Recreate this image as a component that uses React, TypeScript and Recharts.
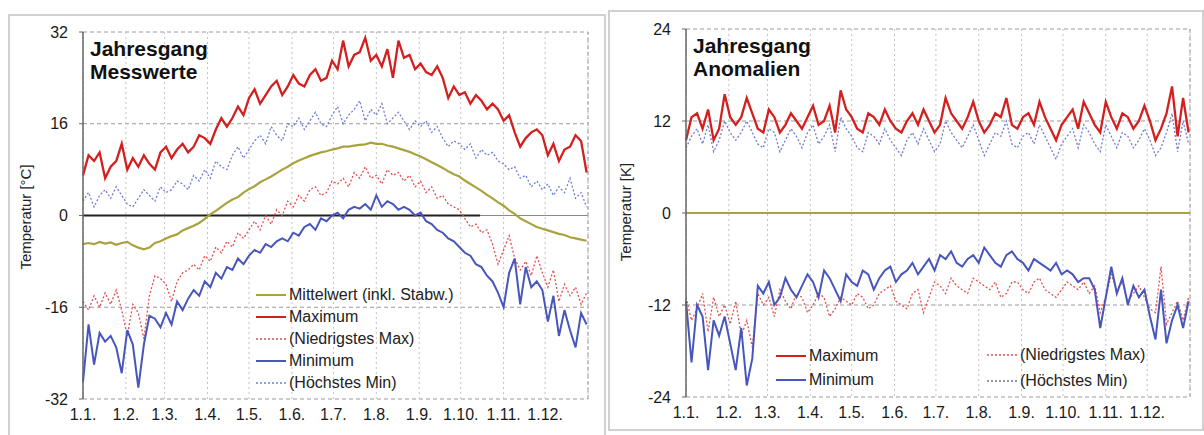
import React from 'react';
import { LineChart, Line, XAxis, YAxis, CartesianGrid, ReferenceLine } from 'recharts';

// daily series sampled every 4 days (1.1. .. 31.12.)
const dayStep = 4;

const monthStarts = [0, 31, 59, 90, 120, 151, 181, 212, 243, 273, 304, 334];
const monthLabels = ['1.1.', '1.2.', '1.3.', '1.4.', '1.5.', '1.6.', '1.7.', '1.8.', '1.9.', '1.10.', '1.11.', '1.12.'];

const leftTicks = [-32, -16, 0, 16, 32];
const rightTicks = [-24, -12, 0, 12, 24];

// Messwerte [°C]
const messMax = [
  7, 10.5, 9.5, 11, 6.5, 8.5, 9.5, 12.5, 8, 10,
  8.5, 10.5, 9, 8, 11, 12, 10, 11.5, 12.5, 11,
  12, 14, 13.5, 12.5, 15, 17, 15.5, 17, 19, 17.5,
  20.5, 22, 19.5, 21, 22.5, 23.5, 21, 22.5, 24.5, 23,
  22.5, 24.5, 25.5, 23.5, 24, 27, 25.5, 30.5, 26, 28,
  28.5, 31, 27, 28, 26, 29, 24, 30.5, 27.5, 28,
  25.5, 26.5, 25, 24.5, 26, 24, 20.5, 22.5, 21, 21.5,
  19.5, 21, 20, 18.5, 19.5, 18.5, 16.5, 17.5, 14.5, 12,
  13.5, 14.5, 15, 14, 10.5, 12.5, 9.5, 11.5, 12, 14,
  13, 7.5,
];
const messHoechstesMin = [
  2.5, 4, 1.5, 3.5, 4.5, 3, 5, 3.5, 2, 1.5,
  3, 4.5, 3.5, 2.5, 5, 4, 4.5, 6, 5.5, 4.5,
  7, 6, 8, 6.5, 9.5, 8.5, 8, 10.5, 12, 10,
  11.5, 13, 14, 12.5, 15.5, 14, 13, 16, 15.5, 17,
  15, 16.5, 18, 16, 15.5, 17.5, 19, 16, 17.5, 18.5,
  20, 16.5, 18.5, 17.5, 19.5, 16, 17, 18, 16.5, 15,
  16.5, 15.5, 16.5, 14.5, 15.5, 13.5, 12, 13, 12.5, 11.5,
  12.5, 10, 11.5, 10.5, 11, 9.5, 9, 8, 8.5, 6.5,
  7, 5, 6, 4.5, 5.5, 3.5, 5, 4, 6.5, 3,
  4, 1.5,
];
const messMittel = [
  -5, -4.8, -5, -4.6, -4.9, -4.7, -5.1, -4.8, -4.6, -5.2,
  -5.6, -5.9, -5.6, -4.8, -4.5, -4, -3.6, -3.3, -2.6, -2.2,
  -1.8, -1.3, -0.6, 0.2, 0.8, 1.5, 2.2, 2.8, 3.2, 4,
  4.6, 5.1, 5.8, 6.3, 6.8, 7.4, 8, 8.5, 9.1, 9.6,
  10, 10.4, 10.7, 11, 11.2, 11.5, 11.7, 12, 12, 12.2,
  12.3, 12.4, 12.7, 12.5, 12.5, 12.2, 12, 11.7, 11.4, 11.1,
  10.7, 10.3, 9.8, 9.3, 8.8, 8.3, 7.7, 7.2, 6.8, 6.1,
  5.5, 4.9, 4.3, 3.6, 3, 2.3, 1.7, 0.9, 0.3, -0.5,
  -1, -1.5, -2, -2.3, -2.6, -2.9, -3.2, -3.4, -3.8, -4,
  -4.2, -4.4,
];
const messNiedrigstesMax = [
  -15, -16.5, -14, -16, -13.5, -15.5, -13, -16.5, -21, -15.5,
  -17, -21.5, -14, -10.5, -11, -12, -15, -11.5, -10, -9.5,
  -8.5, -9.5, -7, -8, -5.5, -6.5, -4.5, -5.5, -3, -4,
  -2.5, -1, -2.5, 0, -1.5, 1, 0, 2.5, 1.5, 3.5,
  2.5, 4.5, 5, 3.5, 4, 6, 5.5, 6.5, 5, 7.5,
  6.5, 8.5, 6.5, 7, 5.5, 8, 7, 7.5, 6, 7,
  5, 6, 4, 5, 3, 3.5, 2, 1.5, 1, -0.5,
  -2, -1.5, -3, -2.5, -5, -8.5, -6, -3.5, -7.5, -9.5,
  -8, -10.5, -7, -10, -12.5, -9.5, -15, -12, -14, -12.5,
  -15.5, -13.5,
];
const messMin = [
  -29, -19, -26, -20.5, -22, -21, -23, -27.5, -20, -22.5,
  -30, -22.5, -17.5, -18, -19.5, -17, -19, -15, -16.5, -14.5,
  -13, -14, -11.5, -12.5, -10, -11, -9, -9.5, -7.5, -8.5,
  -7, -6, -6.5, -5, -5.5, -4.5, -4, -4.5, -3, -3.5,
  -2, -1.5, -2.5, -0.5, -1, 0, 0.5, -0.5, 1, 1.5,
  1.2, 2, 1, 3.5, 1.5, 2.5, 2, 1, 1.5, 1,
  0, 0.5, -1, -1.5, -2.5, -3, -4, -4.5, -5.5, -6.5,
  -7, -8.5, -9, -10.5, -11.5, -13.5, -16, -10, -7.5, -15.5,
  -9, -12.5, -11.5, -13, -18.5, -14, -21, -16.5, -20, -23,
  -17, -19,
];
// end of the dark zero bar in the Messwerte panel (day of year)
const zeroBarEnd = 287;

// Anomalien [K]
const anoMax = [
  9.5, 12.5, 13, 11, 13.5, 9.5, 11, 15.5, 12.5, 11.5,
  12.5, 15, 13, 11, 10.5, 13.5, 12.5, 10.5, 11.5, 13,
  12, 11, 12.5, 14, 11.5, 12, 14, 10.5, 16, 13.5,
  12.5, 11, 10.5, 13, 12.5, 11.5, 13.5, 12, 11, 10.5,
  12, 13, 11.5, 13.5, 12, 10.5, 11.5, 15, 13, 12,
  11, 12.5, 14.5, 12, 10.5, 11.5, 13, 12.5, 15, 11.5,
  11, 12.5, 13, 11.5, 14.5, 12.5, 11, 9.5, 11.5, 12.5,
  13.5, 11, 14.5, 13, 11.5, 10.5, 14.5, 12.5, 11, 13,
  12.5, 11, 12, 14, 12, 9.5, 11, 13, 16.5, 10,
  15, 10.5,
];
const anoHoechstesMin = [
  8.5, 10, 11, 9, 11.5, 8, 9.5, 12, 10.5, 9.5,
  10.5, 12, 10.5, 9, 8.5, 11, 10.5, 8, 9.5, 11,
  10, 8.5, 10.5, 11.5, 9, 10, 11.5, 8, 12.5, 11,
  10, 8.5, 8, 10.5, 10, 9, 11, 9.5, 8.5, 7.5,
  9.5, 10.5, 9, 11, 9.5, 8, 9, 12, 10.5, 9.5,
  8.5, 10, 11.5, 9.5, 7.5, 9, 10.5, 10, 12, 9,
  8.5, 10, 10.5, 9, 11.5, 10, 8.5, 7, 9, 10,
  11, 8.5, 11.5, 10.5, 9, 8, 11.5, 10, 8.5, 10.5,
  10, 8.5, 9.5, 11, 9.5, 7.5, 8.5, 10.5, 13, 8,
  12, 9,
];
const anoMin = [
  -11.5, -19.5, -12, -13.5, -20.5, -14, -16, -13.5, -17, -20.5,
  -15, -22.5, -19, -9.5, -10.5, -9, -12, -11, -8.5, -10,
  -11, -9.5, -8, -9, -11, -7.5, -8.5, -10, -11.5, -8,
  -9, -9.5, -7.5, -8, -10, -8.5, -7.5, -7, -9, -8,
  -7.5, -6.5, -8, -7, -6, -7.5, -5.5, -6, -5, -6.5,
  -7, -6, -5.5, -6.5, -4.5, -5.5, -6.5, -7, -5.5, -5,
  -6, -6.5, -7.5, -6, -6.5, -7, -7.5, -6.5, -8, -7.5,
  -8, -9, -8.5, -8.5, -10, -15, -11, -7, -10.5, -8.5,
  -12, -9.5, -11, -10, -13.5, -16.5, -10, -17, -14, -12,
  -15, -11.5,
];
const anoNiedrigstesMax = [
  -11, -14, -12.5, -10.5, -15.5, -11, -13.5, -12, -14.5, -11.5,
  -16, -14, -17.5, -10.5, -12, -11, -13.5, -10, -11.5, -12.5,
  -10.5, -11, -13, -12, -10.5, -11, -13.5, -12.5, -11, -11.5,
  -12, -10.5, -11, -12.5, -12, -10.5, -10, -9.5, -11.5, -12,
  -12.5, -10.5, -10, -13, -11, -9, -9.5, -10.5, -8.5, -9.5,
  -10, -10.5, -8.5, -9, -9.5, -10, -9, -11, -10.5, -9,
  -9, -10, -10.5, -9, -8.5, -10, -10.5, -11, -10, -9,
  -9.5, -10, -9, -10.5, -9.5, -13, -11, -8, -10, -9,
  -11.5, -10.5, -9.5, -11, -12.5, -13, -7, -14.5, -13, -11.5,
  -14, -11,
];

const RED = '#d41f1f';
const RED_LIGHT = '#e2504f';
const BLUE = '#4656bd';
const BLUE_LIGHT = '#6f7dd2';
const OLIVE = '#aaa23e';
const FONT = '"Liberation Sans", Arial, sans-serif';

const messData = messMax.map((v, i) => ({
  day: i * dayStep,
  max: v,
  hmin: messHoechstesMin[i],
  mittel: messMittel[i],
  nmax: messNiedrigstesMax[i],
  min: messMin[i],
}));

const anoData = anoMax.map((v, i) => ({
  day: i * dayStep,
  max: v,
  hmin: anoHoechstesMin[i],
  nmax: anoNiedrigstesMax[i],
  min: anoMin[i],
}));

const fmtMonth = (d: number) => monthLabels[monthStarts.indexOf(d)] ?? '';

type LegendItem = { label: string; color: string; dashed?: boolean; width?: number };

const LegendRows = ({ items, left, top, gap }: { items: LegendItem[]; left: number; top: number; gap: number }) => (
  <div style={{ position: 'absolute', left, top, fontFamily: FONT, fontSize: 16, color: '#222' }}>
    {items.map((it, i) => (
      <div key={it.label} style={{ position: 'absolute', left: 0, top: i * gap, height: 20, display: 'flex', alignItems: 'center', whiteSpace: 'nowrap' }}>
        <svg width={32} height={20} style={{ marginRight: 2 }}>
          <line x1={1} y1={10} x2={31} y2={10} stroke={it.color} strokeWidth={it.width ?? 2}
            strokeDasharray={it.dashed ? '2 2' : undefined} />
        </svg>
        <span>{it.label}</span>
      </div>
    ))}
  </div>
);

const axisTick = { fontSize: 16, fill: '#1a1a1a', fontFamily: FONT };

const RotLabel = ({ text, x, y }: { text: string; x: number; y: number }) => (
  <div style={{
    position: 'absolute', left: x, top: y, transform: 'translate(-50%, -50%) rotate(-90deg)',
    fontFamily: FONT, fontSize: 15, color: '#222', whiteSpace: 'nowrap',
  }}>{text}</div>
);

const Title = ({ lines, x, y }: { lines: string[]; x: number; y: number }) => (
  <div style={{ position: 'absolute', left: x, top: y, fontFamily: FONT, fontWeight: 'bold', fontSize: 21, lineHeight: '23px', color: '#111' }}>
    {lines.map(l => <div key={l}>{l}</div>)}
  </div>
);

export default function App() {
  return (
    <div style={{ position: 'absolute', left: 0, top: 0, width: 1204, height: 435, background: '#fff', overflow: 'hidden' }}>
      <div style={{ position: 'absolute', left: 8, top: 14, width: 598, height: 440, border: '2px solid #d0d0d0', boxSizing: 'border-box' }} />
      <div style={{ position: 'absolute', left: 608, top: 10, width: 596, height: 421, border: '2px solid #d0d0d0', boxSizing: 'border-box' }} />

      {/* Messwerte */}
      <div style={{ position: 'absolute', left: 0, top: 0 }}>
        <LineChart width={600} height={435} data={messData} margin={{ top: 32, right: 12, bottom: 6, left: 0 }}>
          <CartesianGrid vertical={false} stroke="#9a9a9a" strokeDasharray="4 3" />
          <CartesianGrid horizontal={false} stroke="#c4c4c4" strokeDasharray="2 3" />
          <XAxis type="number" dataKey="day" domain={[0, 365]} ticks={monthStarts} tickFormatter={fmtMonth}
            tick={axisTick} tickLine={false} axisLine={false} tickMargin={4} height={30} interval={0} />
          <YAxis type="number" domain={[-32, 32]} ticks={leftTicks} tick={axisTick} width={83}
            tickSize={4} tickMargin={11} axisLine={{ stroke: '#666', strokeWidth: 1.5 }} tickLine={{ stroke: '#666' }} />
          <ReferenceLine x={365} stroke="#9a9a9a" strokeDasharray="4 3" />
          <ReferenceLine y={0} stroke="#8a8a8a" strokeWidth={1} />
          <ReferenceLine segment={[{ x: 0, y: 0 }, { x: zeroBarEnd, y: 0 }]} stroke="#222" strokeWidth={2} />
          <Line type="linear" dataKey="hmin" stroke={BLUE_LIGHT} strokeWidth={1.3} strokeDasharray="2 2" dot={false} isAnimationActive={false} />
          <Line type="linear" dataKey="nmax" stroke={RED_LIGHT} strokeWidth={1.3} strokeDasharray="2 2" dot={false} isAnimationActive={false} />
          <Line type="linear" dataKey="mittel" stroke={OLIVE} strokeWidth={2.2} dot={false} isAnimationActive={false} />
          <Line type="linear" dataKey="max" stroke={RED} strokeWidth={2.3} dot={false} isAnimationActive={false} />
          <Line type="linear" dataKey="min" stroke={BLUE} strokeWidth={2} dot={false} isAnimationActive={false} />
        </LineChart>
      </div>
      <Title lines={['Jahresgang', 'Messwerte']} x={90} y={37} />
      <RotLabel text="Temperatur [°C]" x={25} y={217} />
      <LegendRows left={255} top={285} gap={22} items={[
        { label: 'Mittelwert (inkl. Stabw.)', color: OLIVE },
        { label: 'Maximum', color: RED },
        { label: '(Niedrigstes Max)', color: RED_LIGHT, dashed: true, width: 1.3 },
        { label: 'Minimum', color: BLUE },
        { label: '(Höchstes Min)', color: BLUE_LIGHT, dashed: true, width: 1.3 },
      ]} />

      {/* Anomalien */}
      <div style={{ position: 'absolute', left: 600, top: 0 }}>
        <LineChart width={604} height={435} data={anoData} margin={{ top: 29, right: 14, bottom: 8, left: 0 }}>
          <CartesianGrid vertical={false} stroke="#9a9a9a" strokeDasharray="4 3" />
          <CartesianGrid horizontal={false} stroke="#c4c4c4" strokeDasharray="2 3" />
          <XAxis type="number" dataKey="day" domain={[0, 365]} ticks={monthStarts} tickFormatter={fmtMonth}
            tick={axisTick} tickLine={false} axisLine={false} tickMargin={4} height={30} interval={0} />
          <YAxis type="number" domain={[-24, 24]} ticks={rightTicks} tick={axisTick} width={86}
            tickSize={4} tickMargin={11} axisLine={{ stroke: '#666', strokeWidth: 1.5 }} tickLine={{ stroke: '#666' }} />
          <ReferenceLine x={365} stroke="#9a9a9a" strokeDasharray="4 3" />
          <ReferenceLine y={0} stroke={OLIVE} strokeWidth={2} />
          <Line type="linear" dataKey="hmin" stroke={BLUE_LIGHT} strokeWidth={1.3} strokeDasharray="2 2" dot={false} isAnimationActive={false} />
          <Line type="linear" dataKey="nmax" stroke={RED_LIGHT} strokeWidth={1.3} strokeDasharray="2 2" dot={false} isAnimationActive={false} />
          <Line type="linear" dataKey="max" stroke={RED} strokeWidth={2.3} dot={false} isAnimationActive={false} />
          <Line type="linear" dataKey="min" stroke={BLUE} strokeWidth={2} dot={false} isAnimationActive={false} />
        </LineChart>
      </div>
      <Title lines={['Jahresgang', 'Anomalien']} x={693} y={34} />
      <RotLabel text="Temperatur [K]" x={625} y={212} />
      <LegendRows left={775} top={346} gap={24} items={[
        { label: 'Maximum', color: RED },
        { label: 'Minimum', color: BLUE },
      ]} />
      <LegendRows left={986} top={345} gap={26} items={[
        { label: '(Niedrigstes Max)', color: RED_LIGHT, dashed: true, width: 1.3 },
        { label: '(Höchstes Min)', color: '#6a6f9a', dashed: true, width: 1.3 },
      ]} />
    </div>
  );
}
